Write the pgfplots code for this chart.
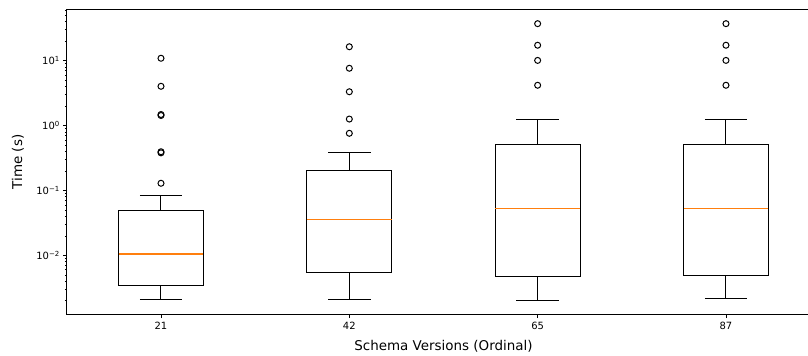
\documentclass[border=0pt]{standalone}
\usepackage{fontspec}
\setmainfont{DejaVu Sans}
\usepackage{pgfplots}
\pgfplotsset{compat=1.18}
\definecolor{mplorange}{HTML}{FF7F0E}
\pgfplotsset{
  bx/.style={black, line width=1bp, mark=none, line join=miter},
  md/.style={draw=mplorange, color=mplorange, line width=1.1bp, mark=none},
  fl/.style={only marks, mark=o, mark size=3bp, mark options={solid, fill=none, line width=1bp, draw=black}},
}
\begin{document}
\begin{tikzpicture}
\begin{axis}[name=ax, scale only axis, width=753.3bp, height=305.7bp,
  xmin=0.5, xmax=4.5, ymode=log, ymin=1.216e-3, ymax=62.6,
  xtick={1,2,3,4}, xticklabels={21,42,65,87},
  ytick={0.01,0.1,1,10},
  yticklabels={10\textsuperscript{−2},10\textsuperscript{−1},10\textsuperscript{0},10\textsuperscript{1}},
  minor ytick={0.002,0.003,0.004,0.005,0.006,0.007,0.008,0.009,
    0.02,0.03,0.04,0.05,0.06,0.07,0.08,0.09,
    0.2,0.3,0.4,0.5,0.6,0.7,0.8,0.9,
    2,3,4,5,6,7,8,9,20,30,40,50,60},
  tick align=outside, tick pos=left,
  major tick length=3.5bp, minor tick length=2bp,
  major tick style={black, line width=0.8bp},
  minor tick style={black, line width=0.6bp},
  axis line style={line width=0.8bp, black},
  ticklabel style={font=\fontsize{10}{12}\selectfont, text=black},
  xlabel={Schema Versions (Ordinal)}, ylabel={Time (s)},
  label style={font=\fontsize{13.5}{16}\selectfont},
  xlabel style={at={(axis description cs:0.5,-0.1155)}, anchor=base},
  ylabel style={at={(axis description cs:-0.0648,0.5)}, anchor=center},
]
% ---- version 21 ----
\addplot[bx] coordinates {(0.775,0.00341) (1.225,0.00341) (1.225,0.0495) (0.775,0.0495)} --cycle;
\addplot[bx] coordinates {(1,0.0495) (1,0.0832)};
\addplot[bx] coordinates {(0.8875,0.0832) (1.1125,0.0832)};
\addplot[bx] coordinates {(1,0.00341) (1,0.00206)};
\addplot[bx] coordinates {(0.8875,0.00206) (1.1125,0.00206)};
\addplot[md] coordinates {(0.775,0.0105) (1.225,0.0105)};
\addplot[fl] coordinates {(1,10.9) (1,4.03) (1,1.43) (1,1.48) (1,0.38) (1,0.395) (1,0.129)};
% ---- version 42 ----
\addplot[bx] coordinates {(1.775,0.00536) (2.225,0.00536) (2.225,0.202) (1.775,0.202)} --cycle;
\addplot[bx] coordinates {(2,0.202) (2,0.378)};
\addplot[bx] coordinates {(1.8875,0.378) (2.1125,0.378)};
\addplot[bx] coordinates {(2,0.00536) (2,0.00206)};
\addplot[bx] coordinates {(1.8875,0.00206) (2.1125,0.00206)};
\addplot[md] coordinates {(1.775,0.0357) (2.225,0.0357)};
\addplot[fl] coordinates {(2,16.4) (2,7.64) (2,3.32) (2,1.26) (2,0.76)};
% ---- version 65 ----
\addplot[bx] coordinates {(2.775,0.0047) (3.225,0.0047) (3.225,0.508) (2.775,0.508)} --cycle;
\addplot[bx] coordinates {(3,0.508) (3,1.22)};
\addplot[bx] coordinates {(2.8875,1.22) (3.1125,1.22)};
\addplot[bx] coordinates {(3,0.0047) (3,0.00198)};
\addplot[bx] coordinates {(2.8875,0.00198) (3.1125,0.00198)};
\addplot[md] coordinates {(2.775,0.0519) (3.225,0.0519)};
\addplot[fl] coordinates {(3,37.2) (3,17.3) (3,10.1) (3,4.18)};
% ---- version 87 ----
\addplot[bx] coordinates {(3.775,0.00493) (4.225,0.00493) (4.225,0.508) (3.775,0.508)} --cycle;
\addplot[bx] coordinates {(4,0.508) (4,1.22)};
\addplot[bx] coordinates {(3.8875,1.22) (4.1125,1.22)};
\addplot[bx] coordinates {(4,0.00493) (4,0.00215)};
\addplot[bx] coordinates {(3.8875,0.00215) (4.1125,0.00215)};
\addplot[md] coordinates {(3.775,0.0519) (4.225,0.0519)};
\addplot[fl] coordinates {(4,37.2) (4,17.3) (4,10.1) (4,4.18)};
\end{axis}
\pgfresetboundingbox
\path ([xshift=-66.83bp,yshift=-41.3bp]ax.south west) rectangle ([xshift=741.17bp,yshift=9bp]ax.north west);
\end{tikzpicture}
\end{document}
